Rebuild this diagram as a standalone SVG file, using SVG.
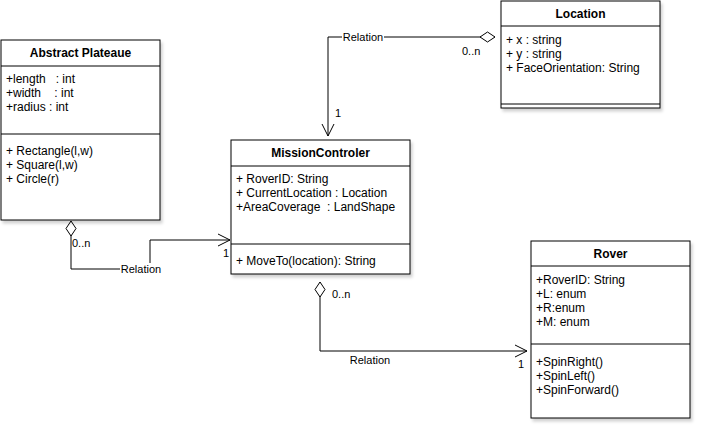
<svg xmlns="http://www.w3.org/2000/svg" width="702" height="433" viewBox="0 0 702 433">
<defs>
<filter id="sh" x="-10%" y="-10%" width="130%" height="130%">
<feDropShadow dx="2" dy="3" stdDeviation="1.5" flood-color="#000" flood-opacity="0.18"/>
</filter>
<marker id="dia" markerUnits="userSpaceOnUse" viewBox="-1 -7 18 14" refX="0" refY="0" markerWidth="18" markerHeight="14" orient="auto">
<path d="M0,0 L7.5,-5 L15,0 L7.5,5 Z" fill="#fff" stroke="#000" stroke-width="1"/>
</marker>
<marker id="arr" markerUnits="userSpaceOnUse" viewBox="-14 -8 16 16" refX="0" refY="0" markerWidth="16" markerHeight="16" orient="auto">
<path d="M-12,-6 L0,0 L-12,6" fill="none" stroke="#000" stroke-width="1"/>
</marker>
</defs>
<style>
.box{fill:#fff;stroke:#000;stroke-width:1}
.sep{stroke:#000;stroke-width:1}
.t{font-family:"Liberation Sans",Arial,sans-serif;font-size:12px;fill:#000}
.h{font-family:"Liberation Sans",Arial,sans-serif;font-size:12px;font-weight:bold;fill:#000;text-anchor:middle}
.l{font-family:"Liberation Sans",Arial,sans-serif;font-size:11px;fill:#000}
.c{fill:none;stroke:#000;stroke-width:1}
</style>
<rect width="702" height="433" fill="#fff"/>

<g id="connectors">
<path class="c" d="M71,221 V269 H150 V240 H230" marker-start="url(#dia)" marker-end="url(#arr)"/>
<path class="c" d="M495,37 H328 V136" marker-start="url(#dia)" marker-end="url(#arr)"/>
<path class="c" d="M320,282 V351 H527" marker-start="url(#dia)" marker-end="url(#arr)"/>
<rect x="120" y="263" width="42" height="13" fill="#fff"/>
<text class="l" x="141" y="273" text-anchor="middle">Relation</text>
<text class="l" x="72" y="247">0..n</text>
<text class="l" x="229" y="257" text-anchor="end">1</text>
<rect x="342" y="31" width="42" height="13" fill="#fff"/>
<text class="l" x="363" y="41" text-anchor="middle">Relation</text>
<text class="l" x="462" y="55">0..n</text>
<text class="l" x="335" y="117">1</text>
<text class="l" x="332" y="298">0..n</text>
<text class="l" x="370" y="364" text-anchor="middle">Relation</text>
<text class="l" x="524" y="368" text-anchor="end">1</text>
</g>

<g id="abstract-plateaue">
<rect class="box" x="1" y="40" width="159" height="180" filter="url(#sh)"/>
<line class="sep" x1="1" y1="66" x2="160" y2="66"/>
<line class="sep" x1="1" y1="134" x2="160" y2="134"/>
<text class="h" x="80.5" y="57">Abstract Plateaue</text>
<text class="t" x="6" y="83" xml:space="preserve">+length   : int</text>
<text class="t" x="6" y="97" xml:space="preserve">+width    : int</text>
<text class="t" x="6" y="111">+radius : int</text>
<text class="t" x="6" y="155">+ Rectangle(l,w)</text>
<text class="t" x="6" y="169">+ Square(l,w)</text>
<text class="t" x="6" y="183">+ Circle(r)</text>
</g>

<g id="location">
<rect class="box" x="501" y="1" width="159" height="107" filter="url(#sh)"/>
<line class="sep" x1="501" y1="26" x2="660" y2="26"/>
<line class="sep" x1="501" y1="104" x2="660" y2="104"/>
<text class="h" x="580.5" y="18">Location</text>
<text class="t" x="506" y="44">+ x : string</text>
<text class="t" x="506" y="58">+ y : string</text>
<text class="t" x="506" y="72">+ FaceOrientation: String</text>
</g>

<g id="mission-controler">
<rect class="box" x="231" y="140" width="179" height="134" filter="url(#sh)"/>
<line class="sep" x1="231" y1="166" x2="410" y2="166"/>
<line class="sep" x1="231" y1="244" x2="410" y2="244"/>
<text class="h" x="320.5" y="157">MissionControler</text>
<text class="t" x="236" y="183">+ RoverID: String</text>
<text class="t" x="236" y="197">+ CurrentLocation : Location</text>
<text class="t" x="236" y="211" xml:space="preserve">+AreaCoverage  : LandShape</text>
<text class="t" x="236" y="265">+ MoveTo(location): String</text>
</g>

<g id="rover">
<rect class="box" x="531" y="241" width="159" height="177" filter="url(#sh)"/>
<line class="sep" x1="531" y1="266" x2="690" y2="266"/>
<line class="sep" x1="531" y1="344" x2="690" y2="344"/>
<text class="h" x="610.5" y="258">Rover</text>
<text class="t" x="536" y="284">+RoverID: String</text>
<text class="t" x="536" y="298">+L: enum</text>
<text class="t" x="536" y="312">+R:enum</text>
<text class="t" x="536" y="326">+M: enum</text>
<text class="t" x="536" y="366">+SpinRight()</text>
<text class="t" x="536" y="380">+SpinLeft()</text>
<text class="t" x="536" y="394">+SpinForward()</text>
</g>
</svg>
